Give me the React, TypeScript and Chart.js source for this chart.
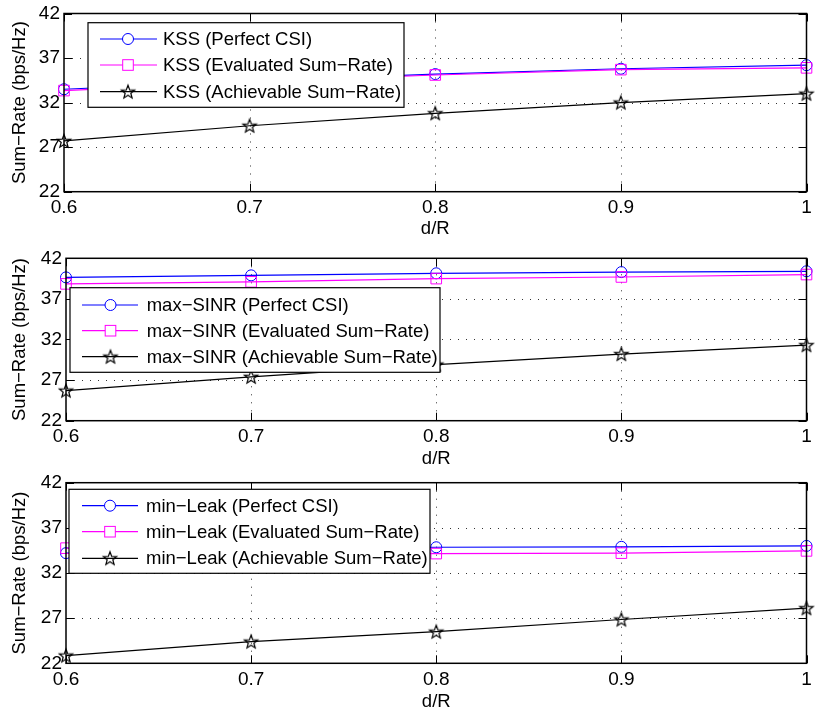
import React, { useEffect, useRef } from 'react';
import { Chart, registerables } from 'chart.js';

Chart.register(...registerables);

// ---------- data ----------
const xValues = [0.6, 0.7, 0.8, 0.9, 1.0];
const xTicks = [0.6, 0.7, 0.8, 0.9, 1];
const yTicks = [22, 27, 32, 37, 42];
const xLabel = 'd/R';
const yLabel = 'Sum\u2212Rate (bps/Hz)';

const kssPerfect = [33.5, 34.4, 35.2, 35.8, 36.2];
const kssEvaluated = [33.35, 34.3, 35.1, 35.7, 35.9];
const kssAchievable = [27.7, 29.4, 30.8, 32.0, 33.0];
const kssLabels = ['KSS (Perfect CSI)', 'KSS (Evaluated Sum\u2212Rate)', 'KSS (Achievable Sum\u2212Rate)'];

const maxSinrPerfect = [39.65, 39.9, 40.15, 40.3, 40.4];
const maxSinrEvaluated = [38.85, 39.1, 39.5, 39.7, 40.0];
const maxSinrAchievable = [25.7, 27.4, 28.9, 30.2, 31.3];
const maxSinrLabels = ['max\u2212SINR (Perfect CSI)', 'max\u2212SINR (Evaluated Sum\u2212Rate)', 'max\u2212SINR (Achievable Sum\u2212Rate)'];

const minLeakPerfect = [34.2, 34.5, 34.85, 34.9, 35.0];
const minLeakEvaluated = [34.75, 34.4, 34.15, 34.2, 34.45];
const minLeakAchievable = [22.85, 24.4, 25.5, 26.85, 28.1];
const minLeakLabels = ['min\u2212Leak (Perfect CSI)', 'min\u2212Leak (Evaluated Sum\u2212Rate)', 'min\u2212Leak (Achievable Sum\u2212Rate)'];

// ---------- styling / layout ----------
const FONT = "'Liberation Sans', Arial, Helvetica, sans-serif";
const TICK_SIZE = 19;
const TEXT_SIZE = 18.5;
const LEFT_PAD = 11;

function makeStar(): HTMLCanvasElement {
  const s = 18;
  const c = document.createElement('canvas');
  c.width = s;
  c.height = s;
  const ctx = c.getContext('2d')!;
  const R = 7;
  const r = R * 0.42;
  const cx = s / 2;
  const cy = s / 2 + 0.5;
  ctx.beginPath();
  for (let i = 0; i < 10; i++) {
    const ang = -Math.PI / 2 + (i * Math.PI) / 5;
    const rad = i % 2 === 0 ? R : r;
    const px = cx + rad * Math.cos(ang);
    const py = cy + rad * Math.sin(ang);
    if (i === 0) ctx.moveTo(px, py);
    else ctx.lineTo(px, py);
  }
  ctx.closePath();
  ctx.strokeStyle = '#000';
  ctx.lineWidth = 1.2;
  ctx.stroke();
  return c;
}

const framePlugin = {
  id: 'frame',
  beforeDatasetsDraw(chart: any) {
    const { ctx, chartArea: a, scales } = chart;
    ctx.save();
    ctx.strokeStyle = '#333';
    ctx.lineWidth = 1;
    ctx.setLineDash([1, 7]);
    xTicks.forEach((v) => {
      if (v === xTicks[0] || v === xTicks[xTicks.length - 1]) return;
      const px = Math.round(scales.x.getPixelForValue(v)) + 0.5;
      ctx.beginPath();
      ctx.moveTo(px, a.top);
      ctx.lineTo(px, a.bottom);
      ctx.stroke();
    });
    yTicks.forEach((v) => {
      if (v === yTicks[0] || v === yTicks[yTicks.length - 1]) return;
      const py = Math.round(scales.y.getPixelForValue(v)) + 0.5;
      ctx.beginPath();
      ctx.moveTo(a.left, py);
      ctx.lineTo(a.right, py);
      ctx.stroke();
    });
    ctx.restore();
  },
  afterDatasetsDraw(chart: any, _args: any, opts: any) {
    const { ctx, chartArea: a, scales } = chart;
    ctx.save();
    ctx.setLineDash([]);
    ctx.strokeStyle = '#000';
    ctx.lineWidth = 1.5;
    ctx.strokeRect(a.left, a.top, a.right - a.left, a.bottom - a.top);
    ctx.lineWidth = 1;
    const tl = 8;
    xTicks.forEach((v) => {
      const px = Math.round(scales.x.getPixelForValue(v)) + 0.5;
      ctx.beginPath();
      ctx.moveTo(px, a.bottom);
      ctx.lineTo(px, a.bottom - tl);
      ctx.moveTo(px, a.top);
      ctx.lineTo(px, a.top + tl);
      ctx.stroke();
    });
    yTicks.forEach((v) => {
      const py = Math.round(scales.y.getPixelForValue(v)) + 0.5;
      ctx.beginPath();
      ctx.moveTo(a.left, py);
      ctx.lineTo(a.left + tl, py);
      ctx.moveTo(a.right, py);
      ctx.lineTo(a.right - tl, py);
      ctx.stroke();
    });

    // legend box
    const L = opts.legend;
    if (L) {
      ctx.fillStyle = '#fff';
      ctx.fillRect(L.x0, L.y0, L.x1 - L.x0, L.y1 - L.y0);
      ctx.strokeStyle = '#000';
      ctx.lineWidth = 1.2;
      ctx.strokeRect(L.x0, L.y0, L.x1 - L.x0, L.y1 - L.y0);
      const ds = chart.data.datasets;
      ds.forEach((d: any, i: number) => {
        const y = L.rows[i];
        ctx.strokeStyle = d.borderColor;
        ctx.lineWidth = 1.2;
        ctx.beginPath();
        ctx.moveTo(L.s0, y);
        ctx.lineTo(L.s1, y);
        ctx.stroke();
        const mx = L.m;
        ctx.lineWidth = 1;
        if (d.pointStyle === 'circle') {
          ctx.beginPath();
          ctx.arc(mx, y, d.pointRadius, 0, Math.PI * 2);
          ctx.fillStyle = '#fff';
          ctx.fill();
          ctx.stroke();
        } else if (d.pointStyle === 'rect') {
          const h = d.pointRadius * Math.SQRT1_2;
          ctx.fillStyle = '#fff';
          ctx.fillRect(mx - h, y - h, 2 * h, 2 * h);
          ctx.strokeRect(mx - h, y - h, 2 * h, 2 * h);
        } else if (d.pointStyle instanceof HTMLCanvasElement) {
          const img = d.pointStyle;
          ctx.drawImage(img, mx - img.width / 2, y - img.height / 2);
        }
        ctx.fillStyle = '#000';
        ctx.font = `${TEXT_SIZE}px ${FONT}`;
        ctx.textBaseline = 'middle';
        ctx.textAlign = 'left';
        ctx.fillText(d.label, L.t, y + 1);
      });
    }
    ctx.restore();
  },
};

type PanelProps = {
  top: number;
  height: number;
  plot: { left: number; right: number; top: number; bottom: number };
  series: number[][];
  labels: string[];
  legend: any;
};

function Panel({ top, height, plot, series, labels, legend }: PanelProps) {
  const ref = useRef<HTMLCanvasElement>(null);
  useEffect(() => {
    const star = makeStar();
    const styles: any[] = [
      { color: '#0000ff', pointStyle: 'circle', radius: 5.5 },
      { color: '#ff00ff', pointStyle: 'rect', radius: 7.5 },
      { color: '#000000', pointStyle: star, radius: 7 },
    ];
    const chart = new Chart(ref.current!, {
      type: 'line',
      data: {
        datasets: series.map((vals, i) => ({
          label: labels[i],
          data: vals.map((v, j) => ({ x: xValues[j], y: v })),
          borderColor: styles[i].color,
          backgroundColor: 'rgba(0,0,0,0)',
          borderWidth: 1.2,
          pointStyle: styles[i].pointStyle,
          pointRadius: styles[i].radius,
          pointBorderColor: styles[i].color,
          pointBackgroundColor: 'rgba(0,0,0,0)',
          pointBorderWidth: 1,
          tension: 0,
          clip: false as any,
          order: 3 - i,
        })),
      },
      options: {
        responsive: false,
        animation: false,
        events: [],
        layout: { padding: { left: LEFT_PAD, top: plot.top, right: 815 - plot.right, bottom: 0 } },
        plugins: {
          legend: { display: false },
          tooltip: { enabled: false },
          frame: { legend },
        } as any,
        scales: {
          x: {
            type: 'linear',
            min: 0.6,
            max: 1,
            afterBuildTicks: (s: any) => {
              s.ticks = xTicks.map((v) => ({ value: v }));
            },
            afterFit: (s: any) => {
              s.height = height - plot.bottom;
              s.paddingLeft = 0;
              s.paddingRight = 0;
            },
            grid: { display: false, drawTicks: false },
            border: { display: false },
            ticks: {
              autoSkip: false,
              maxRotation: 0,
              padding: 5,
              color: '#000',
              font: { family: FONT, size: TICK_SIZE },
              callback: (v: any) => String(v),
            },
            title: {
              display: true,
              text: xLabel,
              color: '#000',
              font: { family: FONT, size: TEXT_SIZE, lineHeight: 1 },
              padding: 0,
            },
          },
          y: {
            type: 'linear',
            min: 22,
            max: 42,
            afterBuildTicks: (s: any) => {
              s.ticks = yTicks.map((v) => ({ value: v }));
            },
            afterFit: (s: any) => {
              s.width = plot.left - LEFT_PAD;
              s.paddingTop = 0;
              s.paddingBottom = 0;
            },
            grid: { display: false, drawTicks: false },
            border: { display: false },
            ticks: {
              autoSkip: false,
              padding: 4,
              color: '#000',
              font: { family: FONT, size: TICK_SIZE },
              callback: (v: any) => String(v),
            },
            title: {
              display: true,
              text: yLabel,
              color: '#000',
              font: { family: FONT, size: TEXT_SIZE, lineHeight: 1 },
              padding: 0,
            },
          },
        },
      } as any,
      plugins: [framePlugin as any],
    });
    return () => chart.destroy();
  }, []);
  return (
    <canvas
      ref={ref}
      width={815}
      height={height}
      style={{ position: 'absolute', left: 0, top, display: 'block', width: 815, height }}
    />
  );
}

export default function App() {
  return (
    <div style={{ position: 'absolute', left: 0, top: 0, width: 815, height: 715, background: '#fff' }}>
      <Panel
        top={0}
        height={238}
        plot={{ left: 64, right: 810, top: 13.5, bottom: 191.7 }}
        series={[kssPerfect, kssEvaluated, kssAchievable]}
        labels={kssLabels}
        legend={{ x0: 88, x1: 404, y0: 22.7, y1: 107.3, s0: 100, s1: 157, m: 128, t: 163, rows: [39, 65, 91.7] }}
      />
      <Panel
        top={238}
        height={230}
        plot={{ left: 66, right: 810, top: 20.3, bottom: 182.7 }}
        series={[maxSinrPerfect, maxSinrEvaluated, maxSinrAchievable]}
        labels={maxSinrLabels}
        legend={{ x0: 70, x1: 440, y0: 49.7, y1: 134.3, s0: 82, s1: 138, m: 110.5, t: 146.7, rows: [67, 92.7, 118.7] }}
      />
      <Panel
        top={468}
        height={243}
        plot={{ left: 66, right: 810, top: 14.7, bottom: 195.3 }}
        series={[minLeakPerfect, minLeakEvaluated, minLeakAchievable]}
        labels={minLeakLabels}
        legend={{ x0: 69, x1: 430, y0: 21.3, y1: 105.3, s0: 82, s1: 138, m: 110, t: 146, rows: [37.7, 63.7, 90.3] }}
      />
    </div>
  );
}
